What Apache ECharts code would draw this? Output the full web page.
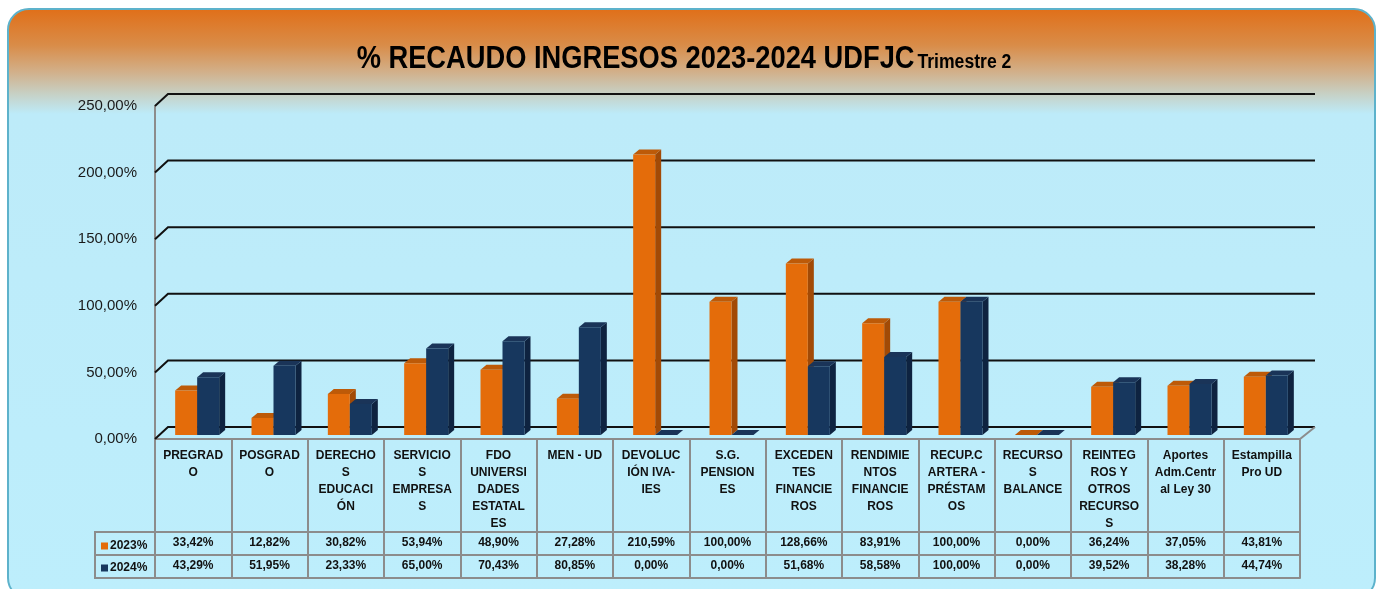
<!DOCTYPE html>
<html>
<head>
<meta charset="utf-8">
<script src="https://cdn.jsdelivr.net/npm/echarts@6/dist/echarts.min.js"></script>
<style>
  html, body { margin: 0; padding: 0; width: 1381px; height: 589px; overflow: hidden; background: #fff; }
  #frame {
    position: absolute; left: 7px; top: 8px; width: 1369px; height: 592px;
    box-sizing: border-box; border: 2px solid #5db2cb; border-radius: 22px;
    background: linear-gradient(to bottom, #e0701a 0px, #d98c48 35px, #d2b08a 62px, #c6d2c8 85px, #bdebf9 104px, #bdeefc 100%);
  }
  #chart { position: absolute; left: 0; top: 0; width: 1381px; height: 589px; }
</style>
</head>
<body>
<div id="frame"></div>
<div id="chart"></div>
<script>
const categories = [
  'PREGRAD\nO', 'POSGRAD\nO', 'DERECHO\nS\nEDUCACI\nÓN', 'SERVICIO\nS\nEMPRESA\nS',
  'FDO\nUNIVERSI\nDADES\nESTATAL\nES', 'MEN - UD', 'DEVOLUC\nIÓN IVA-\nIES', 'S.G.\nPENSION\nES',
  'EXCEDEN\nTES\nFINANCIE\nROS', 'RENDIMIE\nNTOS\nFINANCIE\nROS', 'RECUP.C\nARTERA -\nPRÉSTAM\nOS',
  'RECURSO\nS\nBALANCE', 'REINTEG\nROS Y\nOTROS\nRECURSO\nS', 'Aportes\nAdm.Centr\nal Ley 30', 'Estampilla\nPro UD'
]
const values2023 = [33.42, 12.82, 30.82, 53.94, 48.90, 27.28, 210.59, 100.00, 128.66, 83.91, 100.00, 0.00, 36.24, 37.05, 43.81]
const values2024 = [43.29, 51.95, 23.33, 65.00, 70.43, 80.85, 0.00, 0.00, 51.68, 58.58, 100.00, 0.00, 39.52, 38.28, 44.74]
const yTicks = [0, 50, 100, 150, 200, 250]

const fmt = (v) => v.toFixed(2).replace('.', ',') + '%'
const tableFont = 'Liberation Sans, Arial, sans-serif'
const gray = '#8c8c8c'

const makeBar = (offset, front, side, top) => (params, api) => {
  const idx = api.value(0)
  const base = api.coord([idx, 0])
  const head = api.coord([idx, api.value(1)])
  const w = 22, dx = 6, dy = 5
  const x0 = base[0] + offset
  const y0 = base[1] - 4
  const y1 = head[1] - 4
  return {
    type: 'group',
    children: [
      { type: 'polygon', shape: { points: [[x0 + w, y1], [x0 + w + dx, y1 - dy], [x0 + w + dx, y0 - dy], [x0 + w, y0]] }, style: { fill: side } },
      { type: 'polygon', shape: { points: [[x0, y1], [x0 + dx, y1 - dy], [x0 + w + dx, y1 - dy], [x0 + w, y1]] }, style: { fill: top } },
      { type: 'rect', shape: { x: x0, y: y1, width: w, height: y0 - y1 }, style: { fill: front } }
    ]
  }
}

const renderGrid = (params, api) => {
  const cs = params.coordSys
  const y = api.coord([0, api.value(1)])[1]
  const children = [{
    type: 'polyline',
    shape: { points: [[cs.x, y], [cs.x + 13, y - 12], [cs.x + cs.width + 15, y - 12]] },
    style: { stroke: '#111', lineWidth: 2, fill: null }
  }]
  if (api.value(1) === 0) {
    children.push({
      type: 'line',
      shape: { x1: cs.x + cs.width, y1: y, x2: cs.x + cs.width + 15, y2: y - 12 },
      style: { stroke: gray, lineWidth: 2 }
    })
  }
  return { type: 'group', children }
}

const chart = echarts.init(document.getElementById('chart'))
chart.setOption({
  animation: false,
  legend: {
    data: ['2023%', '2024%'],
    orient: 'vertical',
    left: 96,
    top: 535,
    itemWidth: 7,
    itemHeight: 7,
    itemGap: 10,
    selectedMode: false,
    icon: 'rect',
    textStyle: { fontFamily: tableFont, fontWeight: 'bold', fontSize: 12, color: '#111', padding: [0, 0, 0, -3] }
  },
  grid: { left: 155, right: 81, top: 106, bottom: 150 },
  xAxis: [
    {
      type: 'category', data: categories, position: 'bottom',
      axisLine: { lineStyle: { color: gray, width: 2 } },
      axisTick: { show: true, interval: 0, length: 139, lineStyle: { color: gray, width: 2 } },
      axisLabel: { interval: 0, margin: 8, lineHeight: 17, fontFamily: tableFont, fontWeight: 'bold', fontSize: 12, color: '#111', verticalAlign: 'top' }
    },
    {
      type: 'category', data: categories, position: 'bottom', offset: 93,
      axisLine: { lineStyle: { color: gray, width: 2 } }, axisTick: { show: false },
      axisLabel: { interval: 0, margin: 4, lineHeight: 14, fontFamily: tableFont, fontWeight: 'bold', fontSize: 12, color: '#111', formatter: (v, i) => fmt(values2023[i]) }
    },
    {
      type: 'category', data: categories, position: 'bottom', offset: 116,
      axisLine: { lineStyle: { color: gray, width: 2 } }, axisTick: { show: false },
      axisLabel: { interval: 0, margin: 4, lineHeight: 14, fontFamily: tableFont, fontWeight: 'bold', fontSize: 12, color: '#111', formatter: (v, i) => fmt(values2024[i]) }
    },
    {
      type: 'category', data: categories, position: 'bottom', offset: 139,
      axisLine: { lineStyle: { color: gray, width: 2 } }, axisTick: { show: false }, axisLabel: { show: false }
    }
  ],
  yAxis: {
    type: 'value', min: 0, max: 250, interval: 50,
    axisLine: { show: true, lineStyle: { color: gray, width: 2 } },
    axisTick: { show: false },
    splitLine: { show: false },
    axisLabel: { margin: 18, fontFamily: 'Liberation Sans, Arial, sans-serif', fontSize: 15, color: '#1a1a1a', formatter: (v) => fmt(v) }
  },
  graphic: [
    // title, squeezed horizontally to mimic the condensed original face
    {
      type: 'text', x: 684, y: 59, originX: 0, originY: 0, scaleX: 0.88, z: 20,
      style: {
        text: '{a|% RECAUDO INGRESOS 2023-2024 UDFJC} {b|Trimestre 2}',
        x: 0, y: 0, align: 'center', verticalAlign: 'middle',
        rich: {
          a: { fontFamily: 'Liberation Sans, Arial, sans-serif', fontWeight: 'bold', fontSize: 31, fill: '#000' },
          b: { fontFamily: 'Liberation Sans, Arial, sans-serif', fontWeight: 'bold', fontSize: 20, fill: '#000', padding: [7, 0, 0, 0] }
        }
      }
    },
    { type: 'polyline', z: 10, shape: { points: [[155, 532], [95, 532], [95, 578], [155, 578]] }, style: { stroke: gray, lineWidth: 2, fill: null } },
    { type: 'line', z: 10, shape: { x1: 95, y1: 555, x2: 155, y2: 555 }, style: { stroke: gray, lineWidth: 2 } }
  ],
  series: [
    {
      type: 'custom', name: 'grid', z: 1, silent: true,
      renderItem: renderGrid,
      data: yTicks.map(v => [0, v])
    },
    {
      type: 'custom', name: '2023%', z: 2,
      itemStyle: { color: '#e46c0a' },
      renderItem: makeBar(-18, '#e46c0a', '#a24a06', '#bd5a08'),
      data: values2023.map((v, i) => [i, v])
    },
    {
      type: 'custom', name: '2024%', z: 3,
      itemStyle: { color: '#17375e' },
      renderItem: makeBar(4, '#17375e', '#0e2340', '#1a3458'),
      data: values2024.map((v, i) => [i, v])
    }
  ]
})
</script>
</body>
</html>
